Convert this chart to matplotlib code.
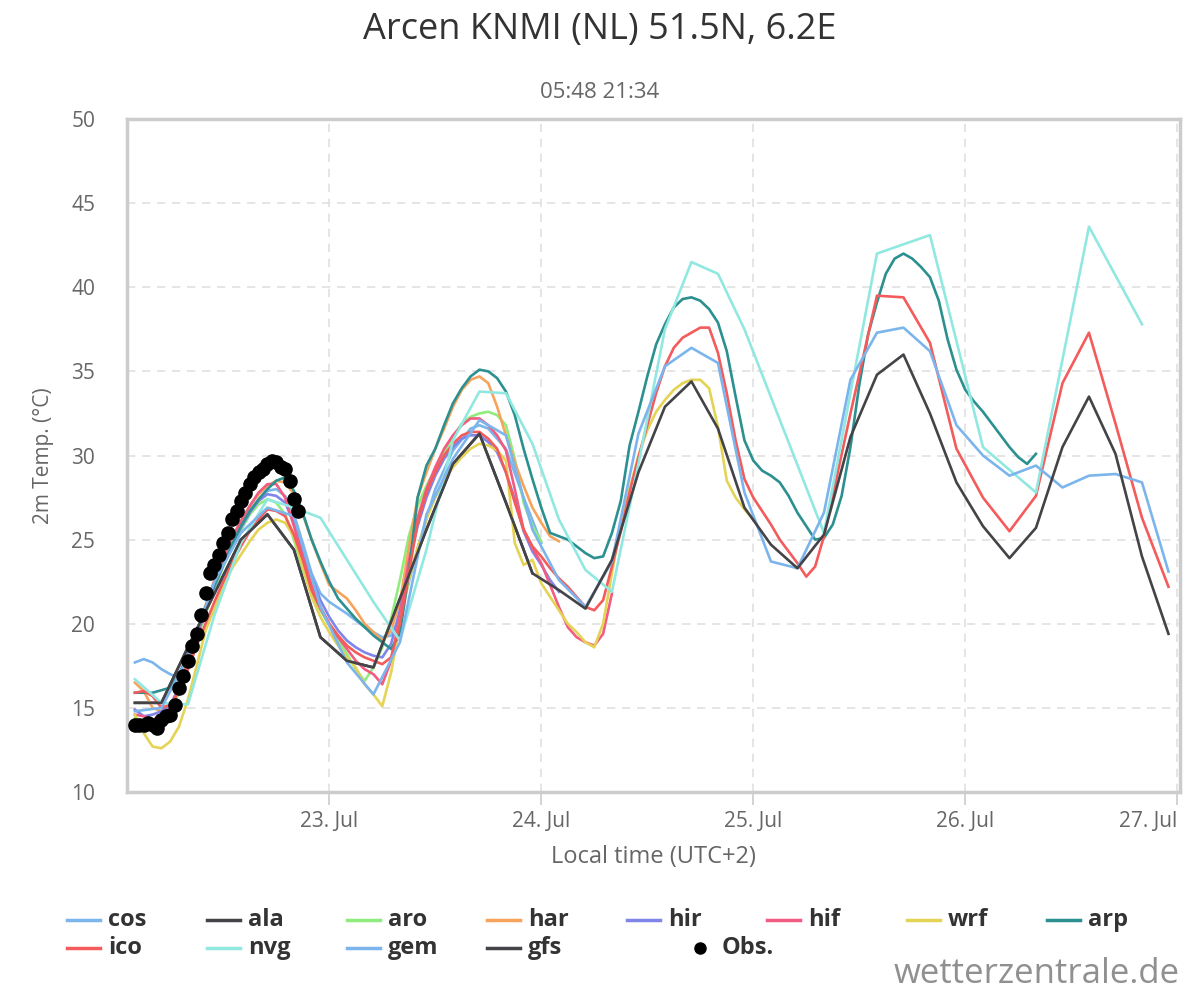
"""
Meteogramm 2m-Temperatur Arcen KNMI (NL): Modellvergleich + Beobachtung
"""

import matplotlib
matplotlib.use('Agg')
import matplotlib.pyplot as plt
from matplotlib.lines import Line2D

plt.rcParams['font.family'] = ['Open Sans', 'DejaVu Sans']

# Zeitachse: Stunden ab 22. Jul 00:00 Lokalzeit
cos_t = [2, 3, 4, 5, 6, 7, 8, 9, 10, 11, 12, 13, 14, 15, 16, 17, 18, 19, 20, 21, 22, 23, 24,
         26, 28, 30, 31, 32, 34, 36, 38, 40, 41, 42, 44, 46, 48]
cos_v = [17.7, 17.9, 17.7, 17.3, 17.0, 16.8, 17.6, 19.2, 20.8, 22.2, 23.5, 24.6, 25.6, 26.5, 27.3,
         27.9, 28.0, 27.6, 26.5, 24.8, 23.0, 21.8, 21.3, 20.6, 19.8, 19.2, 19.3, 20.4, 24.5, 28.0,
         30.3, 31.6, 31.8, 31.6, 30.4, 27.5, 24.8]

ala_t = [2, 5, 8, 11, 14, 17, 20, 23, 26, 29, 32, 35, 38, 41, 44, 47]
ala_v = [15.3, 15.3, 18.6, 21.8, 25.0, 26.5, 24.4, 19.2, 17.8, 17.4, 21.5, 25.6, 29.5, 31.3, 27.2, 23.0]

aro_t = list(range(2, 49))
aro_v = [14.4, 14.2, 14.2, 14.3, 14.8, 15.9, 17.4, 19.0, 20.6, 22.0, 23.4, 24.6, 25.6, 26.5, 27.1,
         27.4, 27.2, 26.5, 25.0, 23.2, 21.8, 20.8, 19.9, 19.0, 18.2, 17.3, 16.6, 17.4, 18.6, 20.3,
         22.6, 25.2, 27.0, 28.2, 29.2, 30.2, 31.1, 31.9, 32.3, 32.5, 32.6, 32.4, 31.8, 29.8, 27.2,
         25.8, 24.9]

har_t = list(range(2, 51))
har_v = [16.5, 16.0, 15.0, 14.8, 15.0, 16.2, 17.8, 19.5, 21.1, 22.6, 23.9, 25.1, 26.1, 27.0, 27.7,
         28.2, 28.5, 28.4, 27.7, 26.5, 25.0, 23.6, 22.3, 21.9, 21.5, 20.8, 20.0, 19.5, 19.0, 19.6,
         21.3, 24.5, 27.5, 29.0, 30.4, 31.6, 32.9, 33.9, 34.5, 34.7, 34.3, 32.9, 31.2, 29.6, 28.2,
         26.9, 26.0, 25.2, 24.9]

hir_t = list(range(2, 51))
hir_v = [14.9, 14.5, 14.6, 14.8, 15.2, 16.2, 17.6, 19.2, 20.8, 22.2, 23.5, 24.7, 25.7, 26.6, 27.3,
         27.7, 27.6, 27.2, 26.0, 24.4, 22.8, 21.4, 20.4, 19.6, 19.0, 18.6, 18.3, 18.1, 18.0, 18.8,
         20.8, 23.5, 25.8, 27.5, 28.8, 29.8, 30.5, 31.0, 31.2, 31.2, 30.8, 30.2, 29.0, 27.4, 25.5,
         24.3, 23.5, 22.6, 21.9]

hif_t = list(range(2, 57))
hif_v = [14.6, 14.5, 14.3, 14.5, 15.0, 16.1, 17.7, 19.4, 21.0, 22.5, 23.9, 25.1, 26.1, 27.0, 27.8,
         28.3, 28.3, 27.5, 25.8, 24.0, 22.3, 21.0, 20.0, 19.2, 18.5, 17.8, 17.3, 17.0, 16.4, 17.8,
         20.5, 23.7, 26.3, 28.0, 29.3, 30.4, 31.2, 31.8, 32.2, 32.2, 31.8, 31.2, 30.3, 28.0, 25.6,
         24.5, 23.6, 22.3, 21.0, 19.8, 19.2, 18.9, 18.7, 19.4, 21.8]

wrf_t = list(range(2, 73))
wrf_v = [14.6, 13.5, 12.7, 12.6, 13.0, 13.9, 15.5, 17.5, 19.6, 20.9, 22.2, 23.3, 24.1, 24.9, 25.6,
         26.0, 26.2, 26.0, 25.2, 23.4, 21.6, 20.4, 19.5, 18.7, 18.0, 17.4, 16.4, 15.8, 15.1, 17.1,
         20.0, 22.6, 24.5, 26.2, 27.5, 28.5, 29.3, 29.9, 30.4, 30.7, 30.6, 30.3, 29.7, 24.8, 23.5,
         23.8, 22.4, 21.6, 20.8, 20.0, 19.5, 18.9, 18.6, 20.0, 23.0, 26.0, 28.0, 30.0, 31.5, 32.6,
         33.3, 33.9, 34.3, 34.5, 34.5, 34.0, 31.7, 28.5, 27.5, 26.8, 26.2]

arp_t = [2, 4, 6] + list(range(7, 105))
arp_v = [15.9, 15.9, 16.2, 17.0, 18.2, 19.6, 21.0, 22.3, 23.5, 24.7, 25.8, 26.7, 27.4, 28.0, 28.5,
         28.7, 27.9, 26.6, 25.0, 23.7, 22.5, 21.5, 20.9, 20.3, 19.8, 19.3, 18.9, 18.5, 19.4, 23.0,
         27.5, 29.4, 30.4, 31.8, 33.1, 34.0, 34.7, 35.1, 35.0, 34.6, 33.8, 32.4, 30.4, 28.6, 26.9,
         25.4, 25.2, 25.0, 24.6, 24.2, 23.9, 24.0, 25.4, 27.3, 30.6, 32.6, 34.7, 36.6, 37.8, 38.8,
         39.3, 39.4, 39.2, 38.7, 37.9, 36.2, 33.5, 30.9, 29.7, 29.1, 28.8, 28.4, 27.6, 26.6, 25.8,
         25.0, 25.1, 25.9, 27.6, 30.5, 34.2, 37.2, 39.1, 40.8, 41.7, 42.0, 41.7, 41.2, 40.6, 39.2,
         36.9, 35.1, 33.9, 33.2, 32.6, 31.9, 31.2, 30.5, 29.9, 29.5, 30.1]

ico_t = list(range(2, 81)) + [83, 86, 89, 92, 95, 98, 101, 104, 107, 110, 113, 116, 119]
ico_v = [15.9, 16.0, 15.7, 15.0, 15.2, 16.0, 17.3, 18.7, 20.0, 21.3, 22.5, 23.6, 24.6, 25.5, 26.2,
         26.8, 26.7, 26.4, 25.3, 23.8, 22.0, 20.9, 20.0, 19.3, 18.7, 18.3, 18.0, 17.8, 17.6, 18.0,
         20.0, 23.0, 26.0, 27.8, 29.0, 30.0, 30.7, 31.2, 31.4, 31.4, 31.0, 30.4, 29.0, 27.2, 25.6,
         24.6, 24.0, 23.3, 22.7, 22.2, 21.6, 21.0, 20.8, 21.4, 23.4, 25.5, 27.8, 29.9, 31.8, 33.7,
         35.3, 36.4, 37.0, 37.3, 37.6, 37.6, 36.1, 33.7, 30.9, 28.6, 27.5, 26.7, 25.9, 25.0, 24.3,
         23.6, 22.8, 23.4, 25.2,
         32.5, 39.5, 39.4, 36.7, 30.4, 27.5, 25.5, 27.6, 34.3, 37.3, 31.9, 26.3, 22.2]

nvg_t = [2, 5, 8, 11, 14, 17, 20, 23, 26, 29, 32, 35, 38, 41, 44, 47, 50, 53, 56, 59, 62, 65, 68,
         71, 80, 86, 92, 98, 104, 110, 116]
nvg_v = [16.7, 15.3, 15.2, 20.5, 24.8, 27.4, 26.9, 26.3, 23.8, 21.3, 19.0, 24.4, 30.9, 33.8, 33.7,
         30.7, 26.2, 23.2, 21.9, 29.5, 37.5, 41.5, 40.8, 37.5, 25.4, 42.0, 43.1, 30.5, 27.8, 43.6,
         37.8]

gem_t = list(range(2, 120, 3))
gem_v = [14.8, 15.0, 18.0, 22.5, 25.4, 26.9, 26.4, 21.0, 17.7, 15.8, 18.9, 26.5, 29.8, 32.1, 31.2,
         25.6, 22.6, 21.0, 23.7, 31.3, 35.3, 36.4, 35.5, 27.8, 23.7, 23.3, 26.6, 34.5, 37.3, 37.6,
         36.2, 31.8, 30.0, 28.8, 29.4, 28.1, 28.8, 28.9, 28.4, 23.1]

gfs_t = list(range(2, 120, 3))
gfs_v = [15.3, 15.3, 18.6, 21.8, 25.0, 26.5, 24.4, 19.2, 17.8, 17.4, 21.5, 25.6, 29.5, 31.3, 27.2,
         23.0, 22.0, 20.9, 23.8, 29.0, 32.9, 34.4, 31.6, 26.9, 24.7, 23.3, 25.3, 31.1, 34.8, 36.0,
         32.5, 28.4, 25.8, 23.9, 25.7, 30.5, 33.5, 30.1, 24.0, 19.4]

obs_t = [2.0, 2.5, 3.0, 3.5, 4.0, 4.5, 5.0, 5.5, 6.0, 6.5, 7.0, 7.5, 8.0, 8.5, 9.0, 9.5, 10.0,
         10.5, 11.0, 11.5, 12.0, 12.5, 13.0, 13.5, 14.0, 14.5, 15.0, 15.5, 16.0, 16.5, 17.0, 17.5,
         18.0, 18.5, 19.0, 19.5, 20.0, 20.5]
obs_v = [14.0, 14.0, 14.0, 14.1, 14.0, 13.8, 14.3, 14.5, 14.6, 15.2, 16.2, 16.9, 17.8, 18.7, 19.4,
         20.5, 21.8, 23.0, 23.5, 24.1, 24.8, 25.4, 26.2, 26.7, 27.3, 27.8, 28.3, 28.7, 29.0, 29.2,
         29.5, 29.7, 29.6, 29.3, 29.2, 28.5, 27.4, 26.7]

day_ticks = [24, 48, 72, 96, 120]
day_labels = ['23. Jul', '24. Jul', '25. Jul', '26. Jul', '27. Jul']

models = [
    ('cos', cos_t, cos_v, '#7cb5ec'),
    ('ala', ala_t, ala_v, '#434348'),
    ('aro', aro_t, aro_v, '#90ed7d'),
    ('har', har_t, har_v, '#f7a35c'),
    ('hir', hir_t, hir_v, '#8085e9'),
    ('hif', hif_t, hif_v, '#f15c80'),
    ('wrf', wrf_t, wrf_v, '#e4d354'),
    ('arp', arp_t, arp_v, '#2b908f'),
    ('ico', ico_t, ico_v, '#f45b5b'),
    ('nvg', nvg_t, nvg_v, '#91e8e1'),
    ('gem', gem_t, gem_v, '#7cb5ec'),
    ('gfs', gfs_t, gfs_v, '#434348'),
]

fig = plt.figure(figsize=(12, 10), dpi=100)
ax = fig.add_axes([0.1058, 0.208, 0.8775, 0.673])

for name, t, v, col in models:
    ax.plot(t, v, color=col, lw=1.9, solid_joinstyle='round', zorder=3)

ax.plot(obs_t, obs_v, 'o', color='black', markersize=9.5, zorder=5)

ax.set_xlim(1.1, 120.3)
ax.set_ylim(10, 50)
ax.set_yticks(range(10, 51, 5))
ax.set_xticks(day_ticks)
ax.set_xticklabels(day_labels)
# letztes Label nach innen schieben, wie im Original
ax.get_xticklabels()[-1].set_horizontalalignment('right')

ax.grid(True, color='#e0e0e0', linestyle=(0, (5, 4)), lw=1.2, zorder=0)
for s in ax.spines.values():
    s.set_color('#cccccc')
    s.set_linewidth(2.5)

ax.tick_params(axis='y', length=0, pad=23, labelsize=15, labelcolor='#666666')
ax.tick_params(axis='x', length=9, width=1.2, color='#cccccc', pad=5,
               labelsize=15, labelcolor='#666666')

ax.set_ylabel('2m Temp. (°C)', fontsize=15, color='#666666', labelpad=12)
ax.set_xlabel('Local time (UTC+2)', fontsize=17, color='#666666', labelpad=9)

fig.text(0.5, 0.970, 'Arcen KNMI (NL) 51.5N, 6.2E', ha='center', va='center',
         fontsize=26, color='#333333')
fig.text(0.5, 0.908, '05:48 21:34', ha='center', va='center', fontsize=16, color='#666666')

# Legende manuell, 8 Spalten à 140 px
legend_rows = [
    ['cos', 'ala', 'aro', 'har', 'hir', 'hif', 'wrf', 'arp'],
    ['ico', 'nvg', 'gem', 'gfs', 'Obs.'],
]
colors = {name: col for name, _, _, col in models}
for r, row in enumerate(legend_rows):
    ypix = 920 + r * 28
    yf = 1 - ypix / 1000
    for c, name in enumerate(row):
        x0 = 67 + c * 140
        if name == 'Obs.':
            fig.add_artist(Line2D([(x0 + 73) / 1200], [yf], marker='o', color='black',
                                  markersize=8, transform=fig.transFigure))
            fig.text((x0 + 95) / 1200, yf, name, ha='left', va='center', fontsize=17,
                     fontweight='bold', color='#333333')
        else:
            fig.add_artist(Line2D([x0 / 1200, (x0 + 33) / 1200], [yf, yf], color=colors[name],
                                  lw=2.5, transform=fig.transFigure))
            fig.text((x0 + 41) / 1200, yf, name, ha='left', va='center', fontsize=17,
                     fontweight='bold', color='#333333')

fig.text(0.983, 0.026, 'wetterzentrale.de', ha='right', va='center', fontsize=25,
         color='#909090')

fig.savefig('out.png', dpi=100)
plt.close(fig)
